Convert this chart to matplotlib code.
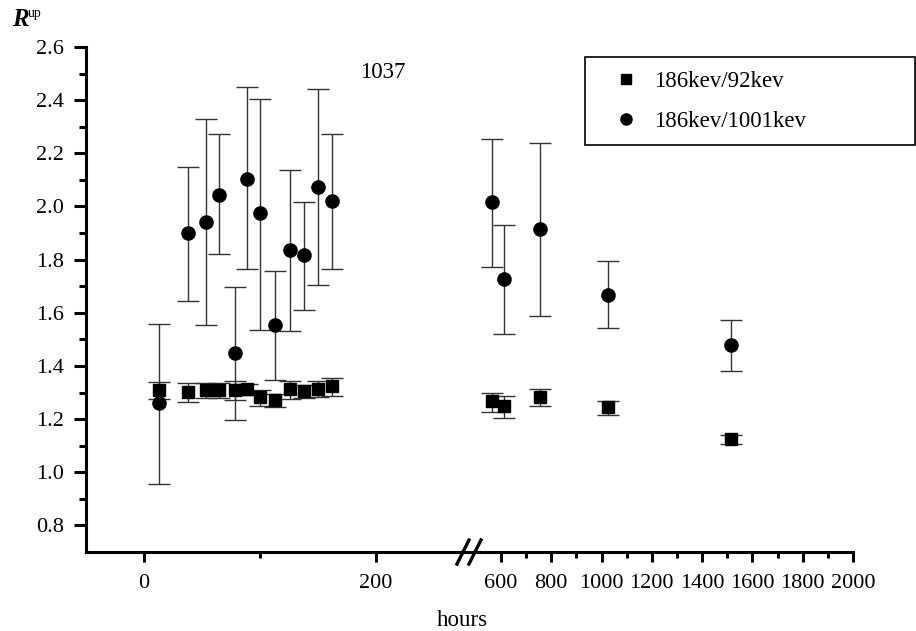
import matplotlib
matplotlib.use("Agg")
import matplotlib.pyplot as plt
from matplotlib.lines import Line2D
from matplotlib.ticker import FixedLocator
import numpy as np

plt.rcParams['font.family'] = ['Liberation Serif', 'DejaVu Serif']
plt.rcParams['font.size'] = 16

# early measurements (hours < 200)
t_early = [13, 38, 53, 65, 78, 89, 100, 113, 126, 138, 150, 162]
r92_early = [1.308, 1.302, 1.311, 1.311, 1.311, 1.312, 1.283, 1.271, 1.312, 1.306, 1.315, 1.323]
r92_early_lo = [1.274, 1.265, 1.281, 1.281, 1.271, 1.292, 1.250, 1.246, 1.277, 1.280, 1.283, 1.287]
r92_early_hi = [1.340, 1.336, 1.334, 1.334, 1.344, 1.332, 1.311, 1.295, 1.342, 1.330, 1.342, 1.353]
r1001_early = [1.261, 1.899, 1.942, 2.045, 1.447, 2.104, 1.976, 1.553, 1.838, 1.817, 2.074, 2.019]
r1001_early_lo = [0.957, 1.644, 1.553, 1.821, 1.198, 1.763, 1.537, 1.349, 1.532, 1.610, 1.704, 1.763]
r1001_early_hi = [1.557, 2.149, 2.329, 2.271, 1.698, 2.451, 2.405, 1.757, 2.137, 2.015, 2.442, 2.271]

# late measurements (hours > 500)
t_late = [564, 612, 756, 1024, 1516]
r92_late = [1.267, 1.248, 1.283, 1.245, 1.124]
r92_late_lo = [1.226, 1.203, 1.250, 1.214, 1.105]
r92_late_hi = [1.300, 1.286, 1.313, 1.267, 1.139]
r1001_late = [2.016, 1.727, 1.915, 1.666, 1.478]
r1001_late_lo = [1.772, 1.520, 1.587, 1.542, 1.380]
r1001_late_hi = [2.254, 1.930, 2.240, 1.794, 1.572]

labels = ['186kev/92kev', '186kev/1001kev']

W, H = 916, 631
fig = plt.figure(figsize=(W / 100, H / 100), dpi=100)
bot = 1 - 552 / H
hgt = (552 - 47) / H
ax1 = fig.add_axes([86 / W, bot, (469 - 86) / W, hgt])
ax2 = fig.add_axes([469 / W, bot, (853 - 469) / W, hgt], sharey=ax1)

def draw(ax, t, y, lo, hi, marker, ms):
    y = np.array(y)
    err = [y - np.array(lo), np.array(hi) - y]
    ax.errorbar(t, y, yerr=err, fmt=marker, color='black', ms=ms,
                ecolor='#333333', elinewidth=1.0, capsize=8, capthick=1.0)

draw(ax1, t_early, r92_early, r92_early_lo, r92_early_hi, 's', 8.5)
draw(ax1, t_early, r1001_early, r1001_early_lo, r1001_early_hi, 'o', 9.5)
draw(ax2, t_late, r92_late, r92_late_lo, r92_late_hi, 's', 8.5)
draw(ax2, t_late, r1001_late, r1001_late_lo, r1001_late_hi, 'o', 9.5)

ax1.set_xlim(-50, 280)
ax2.set_xlim(473, 2000)
ax1.set_ylim(0.7, 2.6)

ax1.yaxis.set_major_locator(FixedLocator(np.arange(0.8, 2.61, 0.2)))
ax1.yaxis.set_minor_locator(FixedLocator(np.arange(0.9, 2.6, 0.2)))
ax1.set_yticklabels(['%.1f' % v for v in np.arange(0.8, 2.61, 0.2)])
ax1.xaxis.set_major_locator(FixedLocator([0, 200]))
ax1.xaxis.set_minor_locator(FixedLocator([100]))
ax2.xaxis.set_major_locator(FixedLocator(range(600, 2001, 200)))
ax2.xaxis.set_minor_locator(FixedLocator(range(700, 2000, 200)))

for ax in (ax1, ax2):
    ax.set_facecolor('none')
    ax.spines['top'].set_visible(False)
    ax.spines['right'].set_visible(False)
    ax.spines['bottom'].set_linewidth(2.2)
    ax.spines['left'].set_linewidth(2.2)
    ax.tick_params(axis='x', which='major', direction='out', length=7.5, width=2.2, pad=8)
    ax.tick_params(axis='x', which='minor', direction='out', length=4, width=2.2)
    ax.tick_params(axis='y', which='major', direction='out', length=9, width=2.2, pad=7)
    ax.tick_params(axis='y', which='minor', direction='out', length=5, width=2.2)
ax2.spines['left'].set_visible(False)
ax2.tick_params(axis='y', which='both', left=False, labelleft=False)

# axis break marks
for xp in (463, 475):
    fig.add_artist(Line2D([(xp - 6) / W, (xp + 6) / W], [1 - 564 / H, 1 - 540 / H],
                          color='black', lw=2.4))

fig.text(383 / W, 1 - 72 / H, '1037', fontsize=16.5, ha='center', va='center')
fig.text(462 / W, 1 - 620 / H, 'hours', fontsize=16.5, ha='center', va='center')
fig.text(12 / W, 1 - 19 / H, 'R', fontweight='bold', fontstyle='italic', fontsize=18,
         ha='left', va='center')
fig.text(28 / W, 1 - 13 / H, 'up', fontsize=10, ha='left', va='center')

handles = [Line2D([], [], ls='none', marker='s', color='black', ms=7),
           Line2D([], [], ls='none', marker='o', color='black', ms=8)]
leg = fig.legend(handles, labels, loc='upper left', fontsize=16.5,
                 bbox_to_anchor=(585 / W, 1 - 142 / H, 330 / W, 85 / H), mode='expand',
                 bbox_transform=fig.transFigure, borderaxespad=0, fancybox=False,
                 frameon=True, edgecolor='black', handlelength=2.4, handletextpad=0.0,
                 borderpad=0.6, labelspacing=0.82, numpoints=1)
leg.get_frame().set_linewidth(1.2)
leg.get_frame().set_alpha(1)

fig.savefig('out.png', dpi=100)
